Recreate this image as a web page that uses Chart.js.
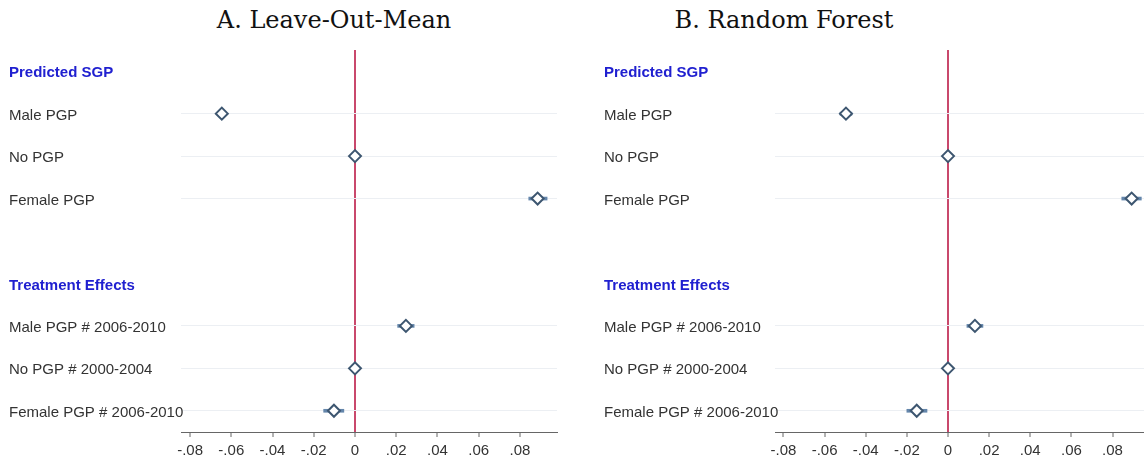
<!DOCTYPE html>
<html>
<head>
<meta charset="utf-8">
<script src="https://cdn.jsdelivr.net/npm/chart.js@4"></script>
<style>
  html, body { margin: 0; padding: 0; background: #fff; overflow: hidden; }
  body { width: 1144px; height: 461px; position: relative; }
  .title { position: absolute; top: 6px; font-family: "DejaVu Serif", serif; font-size: 24px; color: #111; white-space: nowrap; transform: translateX(-50%); }
  .box { position: absolute; top: 0; height: 461px; }
</style>
</head>
<body>
<div class="title" style="left:334px">A. Leave-Out-Mean</div>
<div class="title" style="left:784px">B. Random Forest</div>
<div class="box" style="left:9px;width:563px"><canvas id="loo"></canvas></div>
<div class="box" style="left:604px;width:540px"><canvas id="rf"></canvas></div>
<script>
var rows = ['Predicted SGP', 'Male PGP', 'No PGP', 'Female PGP', '',
            'Treatment Effects', 'Male PGP # 2006-2010', 'No PGP # 2000-2004', 'Female PGP # 2006-2010'];
var headerRows = ['Predicted SGP', 'Treatment Effects'];
var xTicks = [-0.08, -0.06, -0.04, -0.02, 0, 0.02, 0.04, 0.06, 0.08];

// A. Leave-Out-Mean
var looEst  = [null, -0.0646, 0, 0.0886, null, null, 0.0247, 0, -0.0102];
var looLow  = [null, -0.0665, null, 0.0843, null, null, 0.0207, null, -0.0152];
var looHigh = [null, -0.0627, null, 0.0932, null, null, 0.0287, null, -0.0054];

// B. Random Forest
var rfEst  = [null, -0.0496, 0, 0.0893, null, null, 0.0131, 0, -0.0152];
var rfLow  = [null, -0.0525, null, 0.0845, null, null, 0.0092, null, -0.0200];
var rfHigh = [null, -0.0467, null, 0.0940, null, null, 0.0170, null, -0.0102];

Chart.defaults.font.family = '"Liberation Sans", Arial, sans-serif';
Chart.defaults.animation = false;

function isItem(i) {
  return rows[i] !== '' && headerRows.indexOf(rows[i]) < 0;
}

function plotPanel(id, est, low, high, xmin, xmax, axisWidth, padRight) {
  var ctx = document.getElementById(id).getContext('2d');
  var ranges = low.map(function (l, i) { return l === null ? null : [l, high[i]]; });

  return new Chart(ctx, {
    type: 'bar',
    data: {
      labels: rows,
      datasets: [{
        type: 'line',
        data: est,
        showLine: false,
        pointStyle: 'rectRot',
        pointRadius: 6,
        pointBorderWidth: 2,
        pointBackgroundColor: '#ffffff',
        pointBorderColor: '#3d5670',
        order: 0
      }, {
        data: ranges,
        backgroundColor: '#6486ab',
        barThickness: 3,
        order: 1
      }]
    },
    options: {
      indexAxis: 'y',
      responsive: true,
      maintainAspectRatio: false,
      layout: { autoPadding: false, padding: { top: 50, right: padRight, left: 0, bottom: 0 } },
      plugins: { legend: { display: false }, tooltip: { enabled: false } },
      scales: {
        x: {
          type: 'linear',
          min: xmin,
          max: xmax,
          afterBuildTicks: function (scale) {
            scale.ticks = xTicks.map(function (v) { return { value: v }; });
          },
          afterFit: function (scale) {
            scale.height = 29;
            scale.paddingLeft = 0;
            scale.paddingRight = 0;
          },
          ticks: {
            color: '#333',
            font: { size: 15 },
            padding: 5,
            maxRotation: 0,
            callback: function (v) {
              return v === 0 ? '0' : v.toFixed(2).replace('0.', '.');
            }
          },
          grid: {
            color: function (c) {
              return c.tick && Math.abs(c.tick.value) < 1e-9 ? '#c9486c' : 'rgba(0,0,0,0)';
            },
            lineWidth: 2,
            tickColor: '#666',
            tickLength: 5,
            tickWidth: 1
          },
          border: { display: true, color: '#666', width: 1 }
        },
        y: {
          type: 'category',
          afterFit: function (scale) {
            scale.width = axisWidth;
            // long labels run slightly past the axis box, as in the original
            scale._computeLabelArea = function () { return undefined; };
          },
          ticks: {
            crossAlign: 'far',
            autoSkip: false,
            labelOffset: 2,
            color: function (c) {
              return headerRows.indexOf(rows[c.index]) >= 0 ? '#2020d0' : '#333';
            },
            font: function (c) {
              return headerRows.indexOf(rows[c.index]) >= 0
                ? { size: 15, weight: 'bold' }
                : { size: 15 };
            }
          },
          grid: {
            offset: false,
            drawTicks: false,
            color: function (c) {
              return isItem(c.index) ? '#eceff3' : 'rgba(0,0,0,0)';
            },
            lineWidth: 1
          },
          border: { display: false }
        }
      }
    }
  });
}

plotPanel('loo', looEst, looLow, looHigh, -0.0844, 0.098, 172, 15);
plotPanel('rf', rfEst, rfLow, rfHigh, -0.0841, 0.0953, 171, 0);
</script>
</body>
</html>
